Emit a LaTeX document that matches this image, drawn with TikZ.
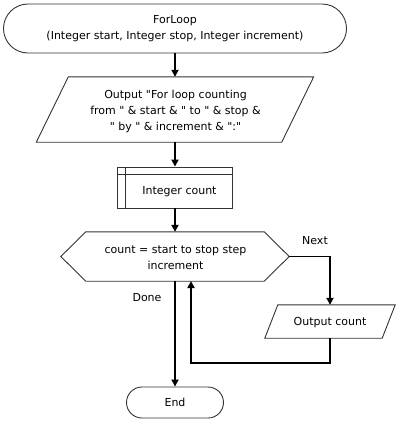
\documentclass[tikz,border=0pt]{standalone}
\usepackage{fontspec}
\setmainfont{DejaVu Sans}[Ligatures=TeXOff]
\usetikzlibrary{shapes.misc,arrows.meta,calc}
\begin{document}
\begin{tikzpicture}[x=1pt,y=-1pt,
  every node/.style={font=\fontsize{11}{16}\selectfont, align=center, inner sep=0pt},
  shapeline/.style={draw=black!80, line width=0.9pt},
  terminal/.style={shapeline, rounded rectangle},
  flow/.style={line width=1.8pt, -{Triangle[width=7pt,length=7pt]}},
  lbl/.style={font=\fontsize{11}{14}\selectfont}
]
\useasboundingbox (0,0) rectangle (400,424);
% start terminal
\node[terminal, minimum width=343, minimum height=49] (start) at (175,28.5)
  {ForLoop\\(Integer start, Integer stop, Integer increment)};
% output parallelogram
\node[minimum width=277, minimum height=65] (out1) at (175,109.5) {};
\draw[shapeline] ($(out1.north west)+(32,0)$) -- (out1.north east)
  -- ($(out1.south east)-(32,0)$) -- (out1.south west) -- cycle;
\node at (175.5,111) {Output "For loop counting\\from " \& start \& " to " \& stop \&\\" by " \& increment \& ":"};
% declare box
\node[shapeline, minimum width=115, minimum height=41] (decl) at (175,187.5) {};
\draw[shapeline] ($(decl.north west)+(8,0)$) -- ($(decl.south west)+(8,0)$);
\draw[shapeline] ($(decl.north west)+(0,8)$) -- ($(decl.north east)+(0,8)$);
\node at (179.5,191.5) {Integer count};
% loop hexagon
\node[minimum width=228, minimum height=49] (loop) at (175,256.5) {};
\draw[shapeline] (loop.west) -- ($(loop.north west)+(25,0)$) -- ($(loop.north east)-(25,0)$)
  -- (loop.east) -- ($(loop.south east)-(25,0)$) -- ($(loop.south west)+(25,0)$) -- cycle;
\node at (175.5,257.5) {count = start to stop step\\increment};
% output count
\node[minimum width=130, minimum height=33] (out2) at (330,321.5) {};
\draw[shapeline] ($(out2.north west)+(13,0)$) -- (out2.north east)
  -- ($(out2.south east)-(13,0)$) -- (out2.south west) -- cycle;
\node at (330,322.5) {Output count};
% end terminal
\node[terminal, minimum width=97, minimum height=31] (endn) at (175,402.5) {End};
% connectors
\draw[flow] (start.south) -- (out1.north);
\draw[flow] (out1.south) -- (decl.north);
\draw[flow] (decl.south) -- (loop.north);
\draw[flow] (loop.east) -| (out2.north);
\coordinate (back) at (191,363);
\coordinate (loopin) at (191,281);
\draw[flow] (out2.south) |- (back) -- (loopin);
\draw[flow] (loop.south) -- (endn.north);
% labels
\node[lbl] (nextlbl) at (315,241) {Next};
\node[lbl] (donelbl) at (147,297.5) {Done};
\end{tikzpicture}
\end{document}
